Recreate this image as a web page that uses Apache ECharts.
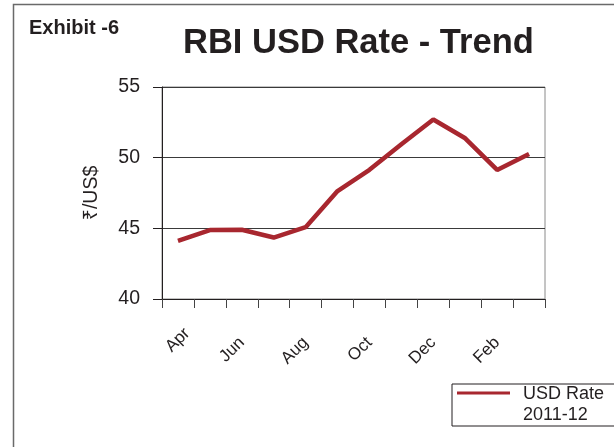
<!DOCTYPE html>
<html>
<head>
<meta charset="utf-8">
<script src="https://cdn.jsdelivr.net/npm/echarts@6/dist/echarts.min.js"></script>
<style>
html,body{margin:0;padding:0;background:#fff;}
#chart{width:614px;height:447px;}
</style>
</head>
<body>
<div id="chart"></div>
<script>
var months = ['Apr','May','Jun','Jul','Aug','Sep','Oct','Nov','Dec','Jan','Feb','Mar'];
var usdRate = [44.12, 44.88, 44.9, 44.35, 45.08, 47.64, 49.14, 50.95, 52.7, 51.37, 49.13, 50.26];
var seriesName = 'USD Rate\n2011-12';
var yTicks = {min: 40, max: 55, interval: 5};
var titleText = 'RBI USD Rate - Trend';
var exhibitText = 'Exhibit -6';
var yName = '₹/US$';

var FONT = '"Liberation Sans", Arial, "Noto Sans", "DejaVu Sans", sans-serif';
var chart = echarts.init(document.getElementById('chart'), null, {renderer: 'canvas'});
chart.setOption({
  animation: false,
  backgroundColor: '#fff',
  textStyle: {fontFamily: FONT},
  graphic: [{
    type: 'rect', silent: true, z: -1,
    shape: {x: 13.5, y: 4.5, width: 700, height: 500},
    style: {fill: 'none', stroke: '#6a6a6a', lineWidth: 1.5}
  }],
  title: [{
    text: exhibitText, left: 29, top: 18, padding: 0,
    textStyle: {fontSize: 20, fontWeight: 'bold', color: '#231f20', fontFamily: FONT}
  }, {
    text: titleText, left: 183, top: 26, padding: 0,
    textStyle: {fontSize: 34.5, fontWeight: 'bold', color: '#231f20', fontFamily: FONT}
  }],
  legend: {
    left: 452, top: 384,
    orient: 'vertical',
    padding: [0, 14, 0, 5],
    borderColor: '#231f20', borderWidth: 1,
    itemWidth: 61, itemHeight: 27,
    symbolKeepAspect: false,
    itemStyle: {borderWidth: 0},
    textStyle: {fontSize: 18, lineHeight: 21, color: '#231f20', fontFamily: FONT},
    data: [{name: seriesName, icon: 'path://M0,0H53V3H0Z M0,27L61,27'}]
  },
  grid: {left: 162, right: 69, top: 87, bottom: 148, show: true, borderColor: '#8a8a8a', borderWidth: 1},
  xAxis: {
    type: 'category', data: months, boundaryGap: true,
    axisLine: {lineStyle: {color: '#231f20', width: 1}},
    axisTick: {show: true, interval: 0, length: 9, lineStyle: {color: '#444'}},
    axisLabel: {
      interval: 1, rotate: 45, fontSize: 17, margin: 41, color: '#231f20', fontFamily: FONT,
      formatter: function (v, i) { return i === 0 ? '{f|' + v + '}' : v; },
      rich: {f: {fontSize: 17, color: '#231f20', fontFamily: FONT, padding: [0, -13, 0, 0]}}
    },
    splitLine: {show: false}
  },
  yAxis: {
    type: 'value', min: yTicks.min, max: yTicks.max, interval: yTicks.interval,
    name: yName, nameLocation: 'middle', nameGap: 60, nameRotate: 90,
    nameTextStyle: {fontSize: 19.5, color: '#231f20', fontFamily: FONT},
    axisLine: {show: true, lineStyle: {color: '#231f20', width: 1}},
    axisTick: {show: true, length: 9, lineStyle: {color: '#231f20'}},
    axisLabel: {fontSize: 19.5, margin: 22, color: '#231f20', fontFamily: FONT},
    splitLine: {show: true, lineStyle: {color: '#3a3a3a', width: 1}}
  },
  series: [{
    name: seriesName, type: 'line', data: usdRate,
    symbol: 'none', smooth: false,
    lineStyle: {color: '#a8272f', width: 4.5},
    itemStyle: {color: '#a8272f'}
  }]
});
</script>
</body>
</html>
